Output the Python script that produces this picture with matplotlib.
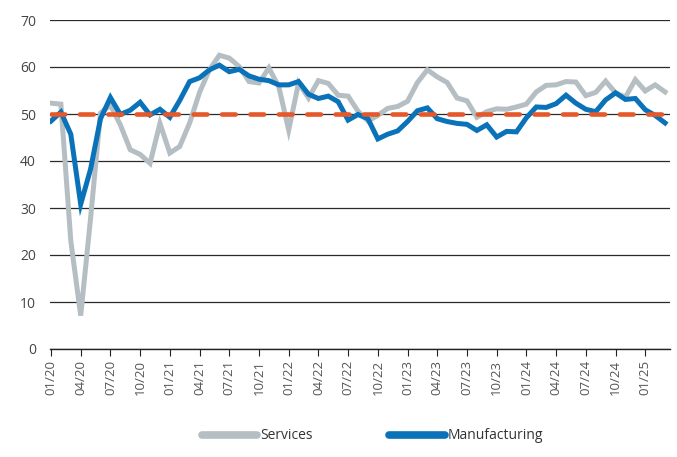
import matplotlib
matplotlib.use("Agg")
import matplotlib.pyplot as plt

plt.rcParams['font.family'] = ['Open Sans', 'DejaVu Sans']

# monthly PMI, 01/20 - 03/25
months = [f"{m:02d}/{y:02d}" for y in range(20, 26) for m in range(1, 13)][:63]

services = [52.3, 52.1, 23.0, 7.1, 27.9, 50.2, 51.9, 47.7, 42.4, 41.4, 39.5, 48.0,
            41.7, 43.1, 48.1, 54.6, 59.4, 62.5, 61.9, 60.1, 56.9, 56.6, 59.8, 55.8,
            46.6, 56.6, 53.4, 57.1, 56.5, 54.0, 53.8, 50.6, 48.5, 49.7, 51.2, 51.6,
            52.7, 56.7, 59.4, 57.9, 56.7, 53.4, 52.8, 49.3, 50.5, 51.1, 51.0, 51.5,
            52.1, 54.7, 56.1, 56.2, 56.9, 56.8, 53.9, 54.6, 57.0, 54.5, 53.6, 57.3,
            54.9, 56.2, 54.7]

manufacturing = [48.5, 50.4, 45.7, 30.8, 38.3, 49.0, 53.5, 49.9, 50.8, 52.5, 49.8, 51.0,
                 49.3, 52.9, 56.9, 57.7, 59.4, 60.4, 59.0, 59.5, 58.1, 57.4, 57.1, 56.2,
                 56.2, 56.9, 54.2, 53.3, 53.8, 52.6, 48.7, 49.9, 49.0, 44.7, 45.7, 46.4,
                 48.4, 50.7, 51.3, 49.0, 48.4, 48.0, 47.8, 46.5, 47.7, 45.1, 46.3, 46.2,
                 49.2, 51.5, 51.4, 52.2, 54.0, 52.3, 51.0, 50.5, 53.0, 54.5, 53.1, 53.3,
                 50.9, 49.7, 48.1]

threshold = 50
yticks = [0, 10, 20, 30, 40, 50, 60, 70]

fig = plt.figure(figsize=(6.77, 4.57), dpi=100)
ax = fig.add_axes([50 / 677, 1 - 349 / 457, 620 / 677, 329 / 457])

x = list(range(len(months)))
ax.plot(x, services, color='#b5bec2', lw=3.6, solid_joinstyle='miter', label='Services', zorder=3)
ax.plot(x, manufacturing, color='#0a72b9', lw=3.6, solid_joinstyle='miter', label='Manufacturing', zorder=4)
ax.hlines(threshold, x[0], x[-1], color='#e4582a', lw=3.3, linestyles=(0, (3.0, 3.2)),
          capstyle='round', zorder=5)

ax.set_ylim(0, 70)
ax.set_xlim(-0.1, 62.5)
ax.set_yticks(yticks)
ax.yaxis.grid(True, color='#2a2a2a', lw=0.9)
ax.set_axisbelow(True)
ax.tick_params(axis='y', length=0, labelsize=10, colors='#444444', pad=10)

ax.set_xticks(x[::3])
ax.set_xticklabels(months[::3], rotation=90)
ax.tick_params(axis='x', length=5, width=0.8, color='#222222', labelsize=9.5,
               labelcolor='#555555', pad=3)

for side in ['top', 'right', 'left']:
    ax.spines[side].set_visible(False)
ax.spines['bottom'].set_color('#222222')
ax.spines['bottom'].set_linewidth(1.0)

leg = fig.legend(loc='center', bbox_to_anchor=(0.55, 0.046), ncol=2, frameon=False,
                 fontsize=10, handlelength=4.0, handletextpad=0.2, columnspacing=5.5)
for line in leg.get_lines():
    line.set_linewidth(5.5)
    line.set_solid_capstyle('round')
for t in leg.get_texts():
    t.set_color('#333333')

fig.savefig('out.png', dpi=100)
